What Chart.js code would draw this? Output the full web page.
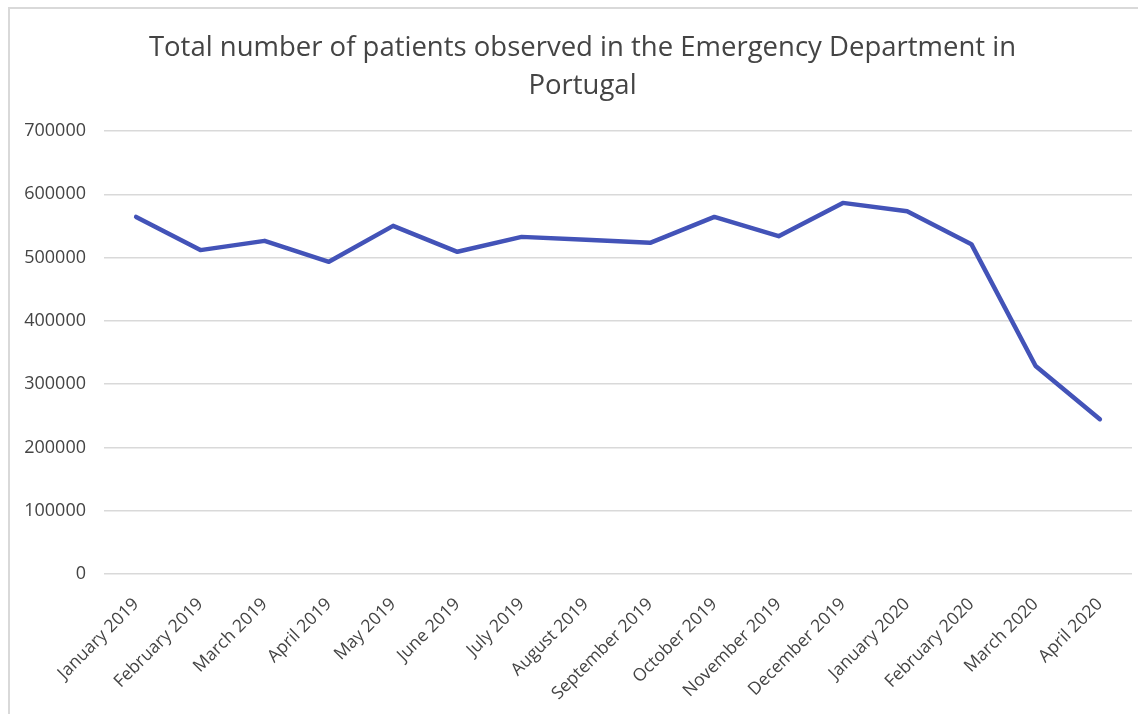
<!DOCTYPE html>
<html>
<head>
<meta charset="utf-8">
<script src="https://cdn.jsdelivr.net/npm/chart.js@4/dist/chart.umd.min.js"></script>
<style>
  html, body { margin: 0; padding: 0; background: #fff; }
  #wrap { position: relative; width: 1146px; height: 714px; overflow: hidden; }
  #frame {
    position: absolute; left: 8px; top: 7px; width: 1130px; height: 760px;
    border-left: 2px solid #d9d9d9; border-top: 2px solid #d9d9d9;
    box-sizing: border-box;
  }
  canvas { position: absolute; left: 0; top: 0; }
</style>
</head>
<body>
<div id="wrap">
  <div id="frame"></div>
  <canvas id="chart" width="1146" height="714"></canvas>
</div>
<script>
  // monthly totals, Jan 2019 – Apr 2020
  const months = [
    'January 2019', 'February 2019', 'March 2019', 'April 2019', 'May 2019',
    'June 2019', 'July 2019', 'August 2019', 'September 2019', 'October 2019',
    'November 2019', 'December 2019', 'January 2020', 'February 2020',
    'March 2020', 'April 2020',
  ];
  const patients = [
    564300, 511800, 526400, 493300, 550100, 509100, 532700, 528300,
    523300, 564300, 533800, 586400, 573300, 521200, 328700, 244600,
  ];
  const yTicks = [0, 100000, 200000, 300000, 400000, 500000, 600000, 700000];
  const titleLines = ['Total number of patients observed in the Emergency Department in', 'Portugal'];

  const TEXT = '#444444';
  const FONT = "'Open Sans', sans-serif";

  // title is centred on the outer frame rather than the canvas, so draw it by hand
  const frameTitle = {
    id: 'frameTitle',
    afterDraw(chart) {
      const ctx = chart.ctx;
      ctx.save();
      ctx.fillStyle = TEXT;
      ctx.font = `27.5px ${FONT}`;
      ctx.textAlign = 'center';
      ctx.textBaseline = 'middle';
      titleLines.forEach((t, i) => ctx.fillText(t, 582.5, 48 + i * 38.5));
      ctx.restore();
    },
  };

  new Chart(document.getElementById('chart'), {
    type: 'line',
    data: {
      labels: months,
      datasets: [{
        label: 'Patients',
        data: patients,
        borderColor: '#4353b8',
        borderWidth: 4.5,
        borderJoinStyle: 'round',
        borderCapStyle: 'round',
        pointRadius: 0,
        tension: 0,
        fill: false,
      }],
    },
    plugins: [frameTitle],
    options: {
      responsive: false,
      animation: false,
      layout: { padding: { left: 0, right: 14, top: 131, bottom: 0 } },
      plugins: {
        legend: { display: false },
        tooltip: { enabled: false },
        title: { display: false },
      },
      scales: {
        x: {
          offset: true,
          grid: { display: false },
          border: { display: false },
          ticks: {
            color: TEXT,
            font: { family: FONT, size: 17.5 },
            minRotation: 45,
            maxRotation: 45,
            autoSkip: false,
            padding: 12,
          },
          afterFit: s => { s.height = 714 - 574; },
        },
        y: {
          min: 0,
          max: yTicks[yTicks.length - 1],
          afterBuildTicks: s => { s.ticks = yTicks.map(v => ({ value: v })); },
          grid: { color: '#d9d9d9', lineWidth: 1.5, drawTicks: false },
          border: { display: false },
          ticks: {
            color: TEXT,
            font: { family: FONT, size: 18 },
            padding: 18,
            callback: v => String(v),
          },
          afterFit: s => { s.width = 104; },
        },
      },
    },
  });
</script>
</body>
</html>
